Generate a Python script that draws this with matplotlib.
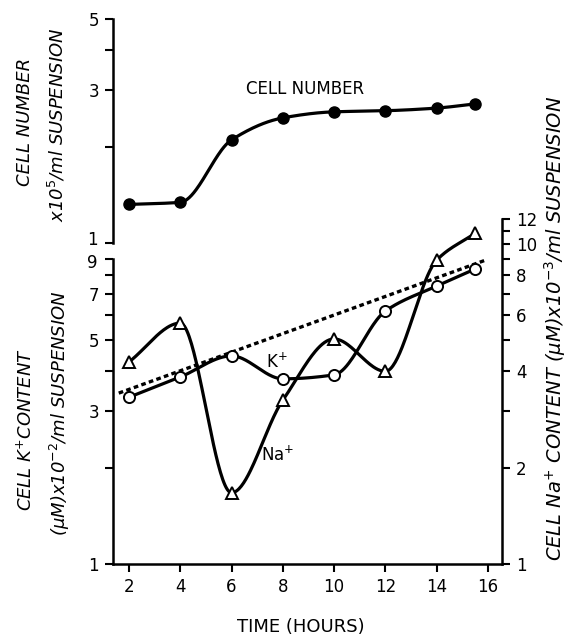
import numpy as np
import matplotlib
matplotlib.use("Agg")
import matplotlib.pyplot as plt
from matplotlib.ticker import FixedLocator, FuncFormatter, NullLocator
import matplotlib.transforms as mtrans

# ---------------- data ----------------
hours = [2, 4, 6, 8, 10, 12, 14, 15.5]
cell_number = [1.32, 1.34, 2.10, 2.46, 2.57, 2.59, 2.64, 2.72]      # x10^5 /ml
k_content = [3.32, 3.84, 4.47, 3.79, 3.90, 6.17, 7.39, 8.35]        # left axis
na_content = [4.28, 5.66, 1.67, 3.25, 5.05, 4.00, 8.90, 10.8]       # right axis
dotted_x = [1.6, 15.9]
dotted_y = [3.42, 8.9]

x_ticks = [2, 4, 6, 8, 10, 12, 14, 16]
top_ticks = [1, 2, 3, 4, 5]
top_labels = [3, 5]
k_ticks = [1, 2, 3, 4, 5, 6, 7, 8, 9]
k_labels = [1, 3, 5, 7]
na_ticks = [1, 2, 3, 4, 5, 6, 7, 8, 9, 10, 11, 12]
na_labels = [1, 2, 4, 6, 8, 10, 12]


def pchip(x, y, n=300):
    x = np.asarray(x, float)
    y = np.asarray(y, float)
    h = np.diff(x)
    d = np.diff(y) / h
    m = np.zeros_like(y)
    for k in range(1, len(x) - 1):
        if d[k - 1] * d[k] > 0:
            w1 = 2 * h[k] + h[k - 1]
            w2 = h[k] + 2 * h[k - 1]
            m[k] = (w1 + w2) / (w1 / d[k - 1] + w2 / d[k])
    m[0] = d[0]
    m[-1] = d[-1]
    xs = np.linspace(x[0], x[-1], n)
    idx = np.clip(np.searchsorted(x, xs) - 1, 0, len(x) - 2)
    t = (xs - x[idx]) / h[idx]
    h00 = 2 * t**3 - 3 * t**2 + 1
    h10 = t**3 - 2 * t**2 + t
    h01 = -2 * t**3 + 3 * t**2
    h11 = t**3 - t**2
    ys = h00 * y[idx] + h10 * h[idx] * m[idx] + h01 * y[idx + 1] + h11 * h[idx] * m[idx + 1]
    return xs, ys


def smooth_log(x, y):
    xs, ys = pchip(x, np.log10(y))
    return xs, 10 ** ys


W, H = 570, 639
fig = plt.figure(figsize=(W / 100, H / 100), dpi=100)
fig.patch.set_facecolor("white")


def box(l, t, r, b):
    return [l / W, 1 - b / H, (r - l) / W, (b - t) / H]


DEC = 320.0
XL, XR = 113, 502
xlim = (1.376, 16.55)
lw_axis = 1.8
tick_fs = 12
lw_line = 2.3
lab_fs = 13


def fmt(allowed):
    return FuncFormatter(lambda v, p: f"{int(round(v))}" if int(round(v)) in allowed else "")


# ---- top panel ----
ax_top = fig.add_axes(box(XL, 243 - DEC * np.log10(5), XR, 243))
ax_top.set_yscale("log")
ax_top.set_ylim(1, 5)
ax_top.set_xlim(*xlim)
for s in ["top", "right", "bottom"]:
    ax_top.spines[s].set_visible(False)
ax_top.spines["left"].set_linewidth(lw_axis)
ax_top.xaxis.set_major_locator(NullLocator())
ax_top.yaxis.set_major_locator(FixedLocator(top_ticks))
ax_top.yaxis.set_minor_locator(NullLocator())
ax_top.yaxis.set_major_formatter(fmt(top_labels))
ax_top.tick_params(axis="y", direction="out", length=6, width=1.5, labelsize=tick_fs, pad=4)
ax_top.patch.set_visible(False)
xs, ys = smooth_log(hours, cell_number)
ax_top.plot(xs, ys, color="black", lw=lw_line, solid_capstyle="round")
ax_top.plot(hours, cell_number, "o", color="black", ms=8)
ax_top.text(8.86, 3.02, "CELL NUMBER", fontsize=12, ha="center", va="center")
# "1" label of the top panel, nudged up slightly
ax_top.text(-0.03, 1, "1", transform=ax_top.get_yaxis_transform() +
            mtrans.ScaledTranslation(-0.04, 0.03, fig.dpi_scale_trans),
            fontsize=tick_fs, ha="right", va="center")

# ---- bottom panel (K+) ----
ax_k = fig.add_axes(box(XL, 564 - DEC * np.log10(9), XR, 564))
ax_k.set_yscale("log")
ax_k.set_ylim(1, 9)
ax_k.set_xlim(*xlim)
for s in ["top", "right"]:
    ax_k.spines[s].set_visible(False)
for s in ["left", "bottom"]:
    ax_k.spines[s].set_linewidth(lw_axis)
ax_k.xaxis.set_major_locator(FixedLocator(x_ticks))
ax_k.yaxis.set_major_locator(FixedLocator(k_ticks))
ax_k.yaxis.set_minor_locator(NullLocator())
ax_k.yaxis.set_major_formatter(fmt(k_labels))
ax_k.tick_params(axis="both", direction="out", length=6, width=1.5, labelsize=tick_fs, pad=4)
ax_k.patch.set_visible(False)
ax_k.text(-0.03, 9, "9", transform=ax_k.get_yaxis_transform() +
          mtrans.ScaledTranslation(-0.04, -0.04, fig.dpi_scale_trans),
          fontsize=tick_fs, ha="right", va="center")

# ---- Na+ axis (right) ----
ax_na = fig.add_axes(box(XL, 564 - DEC * np.log10(12), XR, 564), sharex=ax_k)
ax_na.set_yscale("log")
ax_na.set_ylim(1, 12)
for s in ["top", "left", "bottom"]:
    ax_na.spines[s].set_visible(False)
ax_na.spines["right"].set_linewidth(lw_axis)
ax_na.yaxis.tick_right()
ax_na.yaxis.set_major_locator(FixedLocator(na_ticks))
ax_na.yaxis.set_minor_locator(NullLocator())
ax_na.yaxis.set_major_formatter(fmt(na_labels))
ax_na.tick_params(axis="y", direction="out", length=6, width=1.5, labelsize=tick_fs, pad=4)
ax_na.tick_params(axis="x", which="both", bottom=False, labelbottom=False)
ax_na.patch.set_visible(False)

# curves
ax_k.plot(dotted_x, dotted_y, color="black", lw=2.4, linestyle=(0, (1.4, 1.0)))
xs, ys = smooth_log(hours, k_content)
ax_k.plot(xs, ys, color="black", lw=lw_line)
xs, ys = smooth_log(hours, na_content)
ax_na.plot(xs, ys, color="black", lw=lw_line)
ax_na.plot(hours, na_content, "^", mfc="white", mec="black", mew=1.4, ms=8, zorder=5)
ax_k.plot(hours, k_content, "o", mfc="white", mec="black", mew=1.4, ms=8, zorder=5)

ax_k.text(7.77, 4.28, "K$^{+}$", fontsize=12, ha="center", va="center")
ax_k.text(7.81, 2.19, "Na$^{+}$", fontsize=12, ha="center", va="center")

# axis titles
fig.text(25 / W, 1 - 122 / H, "CELL NUMBER", rotation=90, style="italic",
         fontsize=lab_fs, ha="center", va="center")
fig.text(57 / W, 1 - 125 / H, "x10$^{5}$/ml SUSPENSION", rotation=90, style="italic",
         fontsize=lab_fs, ha="center", va="center")
fig.text(26 / W, 1 - 430 / H, "CELL K$^{+}$CONTENT", rotation=90, style="italic",
         fontsize=lab_fs, ha="center", va="center")
fig.text(60 / W, 1 - 413 / H, "(\u03bcM)x10$^{-2}$/ml SUSPENSION", rotation=90, style="italic",
         fontsize=lab_fs, ha="center", va="center")
fig.text(555 / W, 1 - 328 / H, "CELL Na$^{+}$ CONTENT (\u03bcM)x10$^{-3}$/ml SUSPENSION",
         rotation=90, style="italic", fontsize=14, ha="center", va="center")
fig.text(301 / W, 1 - 627 / H, "TIME (HOURS)", fontsize=13, ha="center", va="center")

fig.savefig("out.png", dpi=100, facecolor="white")
